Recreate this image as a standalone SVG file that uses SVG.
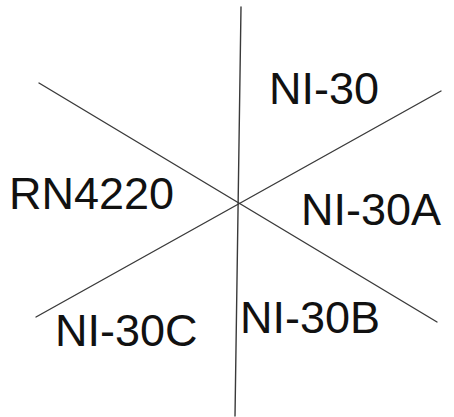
<svg xmlns="http://www.w3.org/2000/svg" width="454" height="417" viewBox="0 0 454 417">
  <style>
    .edge { stroke: #3a3a3a; stroke-width: 1.4; fill: none; stroke-linecap: round; }
    .label { font-family: "Liberation Sans", Arial, sans-serif; font-size: 45px; fill: #111; }
  </style>
  <rect width="454" height="417" fill="#ffffff"/>
  <g id="connectors">
    <line class="edge" x1="241" y1="7" x2="235" y2="416"/>
    <line class="edge" x1="39" y1="83" x2="437" y2="322"/>
    <line class="edge" x1="36" y1="317" x2="441" y2="91"/>
  </g>
  <g id="ni-30"><text class="label" x="269" y="104">NI-30</text></g>
  <g id="rn4220"><text class="label" x="9" y="209">RN4220</text></g>
  <g id="ni-30a"><text class="label" x="301" y="225">NI-30A</text></g>
  <g id="ni-30b"><text class="label" x="240" y="333">NI-30B</text></g>
  <g id="ni-30c"><text class="label" x="55" y="346">NI-30C</text></g>
</svg>
